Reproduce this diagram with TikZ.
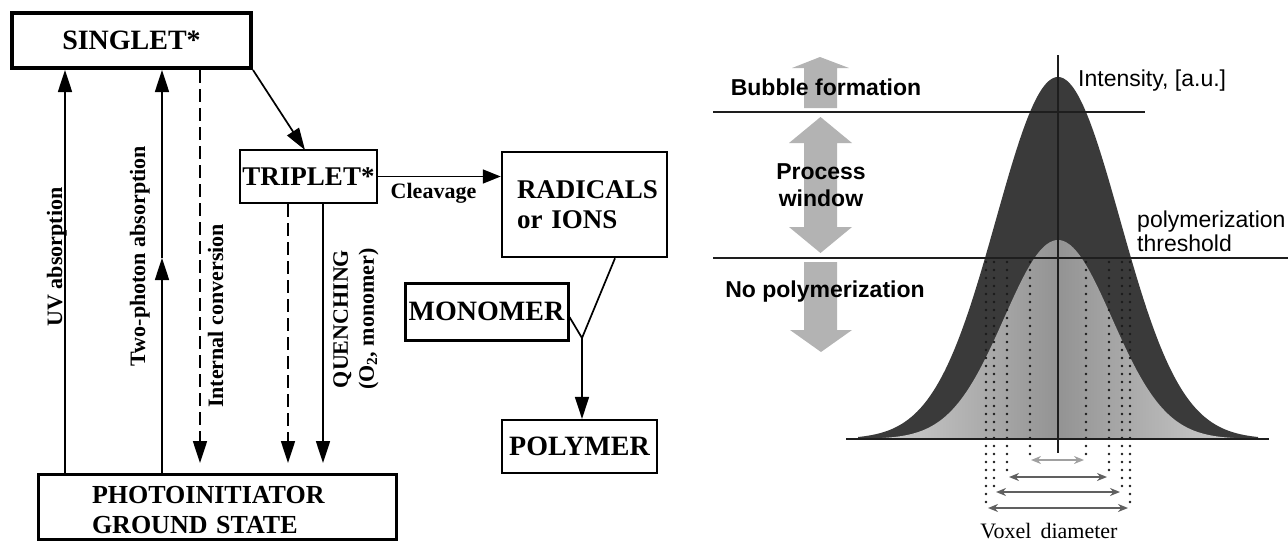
\documentclass[tikz,border=0pt]{standalone}
\usepackage{fontspec}
\setmainfont{Liberation Serif}
\setsansfont{Liberation Sans}
\usetikzlibrary{arrows.meta}
\definecolor{darkfill}{HTML}{3A3A3A}
\definecolor{innerside}{HTML}{D4D4D4}
\definecolor{innermid}{HTML}{939393}
\definecolor{bigarrow}{HTML}{B3B3B3}
\definecolor{rline}{HTML}{1E1E1E}
\definecolor{dotc}{HTML}{1A1A1A}
\definecolor{varrowA}{HTML}{A0A0A0}
\definecolor{varrowB}{HTML}{606060}
\begin{document}
\begin{tikzpicture}[x=1pt,y=-1pt,
  box/.style={draw, rectangle, inner sep=0pt, font=\bfseries\fontsize{27}{30}\selectfont},
  arr/.style={line width=1.7pt, -{Triangle[length=22pt,width=14pt]}},
  rot/.style={rotate=90, inner sep=0pt, font=\bfseries\fontsize{22}{26}\selectfont},
  sansb/.style={inner sep=0pt, font=\sffamily\bfseries\fontsize{23}{27}\selectfont},
  sansr/.style={inner sep=0pt, font=\sffamily\fontsize{23}{24}\selectfont},
  rl/.style={draw=rline, line width=2.5pt},
  dotl/.style={draw=dotc, line width=2.6pt, line cap=round, dash pattern=on 0pt off 8pt},
  varr/.style={line width=2.2pt, {Stealth[length=10pt,width=8pt]}-{Stealth[length=10pt,width=8pt]}}
]
\useasboundingbox (0,0) rectangle (1288,544);

% ---------------- left diagram ----------------
\node[box, line width=4pt, minimum width=239pt, minimum height=55pt, font=\bfseries\fontsize{28}{30}\selectfont] (singlet) at (131.5,40.5) {SINGLET*};
\node[box, line width=2pt, minimum width=137pt, minimum height=53pt] (triplet) at (308.5,176.5) {TRIPLET*};
\node[box, line width=2.5pt, minimum width=165pt, minimum height=105pt, text width=135pt, inner xsep=15pt, align=left] (radicals) at (584.5,204.5) {RADICALS\\or IONS};
\node[box, line width=3pt, minimum width=163pt, minimum height=57pt, font=\bfseries\fontsize{28}{30}\selectfont] (monomer) at (486.5,311.5) {MONOMER};
\node[box, line width=2.2pt, minimum width=155pt, minimum height=53pt, font=\bfseries\fontsize{28}{30}\selectfont] (polymer) at (579.5,446.5) {POLYMER};
\node[box, line width=3pt, minimum width=358pt, minimum height=65pt, text width=250pt, inner xsep=54pt, align=left, font=\bfseries\fontsize{26}{30}\selectfont] (gs) at (217,506.5) {\rule{0pt}{24pt}PHOTOINITIATOR\\GROUND STATE};

\coordinate (cuv) at (65,0);
\coordinate (ctp) at (162,0);
\coordinate (tpmid) at (162,258);
\coordinate (cic) at (200,0);
\coordinate (icend) at (200,463);
\coordinate (ctd) at (288,0);
\coordinate (tdend) at (288,463);
\coordinate (cq) at (323,0);
\coordinate (qend) at (323,463);
\coordinate (crad) at (615,0);
\coordinate (junc) at (582,338);
\coordinate (tripin) at (305,150);

\draw[arr] (singlet.south east) -- (tripin);
\draw[arr] (gs.north -| cuv) -- (singlet.south -| cuv);
\draw[arr] (gs.north -| ctp) -- (tpmid);
\draw[arr] (tpmid) -- (singlet.south -| ctp);
\draw[arr, dash pattern=on 13pt off 6pt] (singlet.south -| cic) -- (icend);
\draw[arr, dash pattern=on 13pt off 6pt] (triplet.south -| ctd) -- (tdend);
\draw[arr] (triplet.south -| cq) -- (qend);
\draw[arr, -{Triangle[length=18pt,width=14pt]}] (triplet.east) -- (triplet.east -| radicals.west);
\draw[line width=1.7pt] (radicals.south -| crad) -- (junc);
\draw[line width=1.7pt] ([yshift=-5.5pt]monomer.east) -- (junc);
\draw[arr] (junc) -- (polymer.north -| junc);

\node[rot, anchor=base] (luv) at (62,257) {UV absorption};
\node[rot, anchor=base] (ltp) at (145,256) {Two-photon absorption};
\node[rot, anchor=base] (lic) at (223,316) {Internal conversion};
\node[rot, align=center] (lq) at (356,319) {QUENCHING\\(O\textsubscript{2}, monomer)};
\node[inner sep=0pt, anchor=base, font=\bfseries\fontsize{22}{24}\selectfont] (lcl) at (433.5,198) {Cleavage};

% ---------------- right diagram ----------------
% big grey arrows
\fill[bigarrow] (820,57) -- (849,68) -- (837,68) -- (837,108) -- (804,108) -- (804,68) -- (792,68) -- cycle;
\fill[bigarrow] (820.5,117) -- (852,143) -- (837,143) -- (837,227) -- (852,227) -- (820.5,253) -- (789,227) -- (804,227) -- (804,143) -- (789,143) -- cycle;
\fill[bigarrow] (804,262) -- (837,262) -- (837,330) -- (852,330) -- (821,352) -- (790,330) -- (804,330) -- cycle;

% intensity profiles
\fill[darkfill] plot[domain=-200:200, samples=120, smooth] ({1058+\x},{439-362*exp(-0.5*(\x/62)*(\x/62))}) -- (1258,439) -- (858,439) -- cycle;
\shade[left color=innerside, right color=innerside, middle color=innermid] plot[domain=-200:200, samples=120, smooth] ({1058+\x},{439-199*exp(-0.5*(\x/54)*(\x/54))}) -- (1258,439) -- (858,439) -- cycle;

% dotted verticals
\foreach \h/\b in {72/508, 64/492, 51/477, 28/460}{
  \draw[dotl] (1058-\h,262) -- (1058-\h,\b);
  \draw[dotl] (1058+\h,262) -- (1058+\h,\b);
}
% voxel diameter arrows
\draw[varr, draw=varrowA, color=varrowA] (1031,460) -- (1084,460);
\draw[varr, draw=varrowB, color=varrowB] (1009,477) -- (1107,477);
\draw[varr, draw=varrowB, color=varrowB] (996,492) -- (1120,492);
\draw[varr, draw=varrowB, color=varrowB] (988,508) -- (1128,508);

% lines
\draw[rl] (713,112) -- (1145,112);
\draw[rl] (713,258) -- (1288,258);
\draw[rl] (846,439) -- (1269,439);
\draw[rl] (1058,55) -- (1058,453);

% texts
\node[sansb, anchor=base] (tbub) at (826,95) {Bubble formation};
\node[sansb, align=center] (tproc) at (821,185) {Process\\window};
\node[sansb, anchor=base] (tnop) at (825,297) {No polymerization};
\node[sansr, anchor=base west] (tint) at (1078,86) {Intensity, [a.u.]};
\node[sansr, align=left, anchor=west] (tthr) at (1137,231.5) {polymerization\\threshold};
\node[inner sep=0pt, anchor=base, font=\fontsize{22}{24}\selectfont] (tvox) at (1049,538) {Voxel\ \,diameter};
\end{tikzpicture}
\end{document}
